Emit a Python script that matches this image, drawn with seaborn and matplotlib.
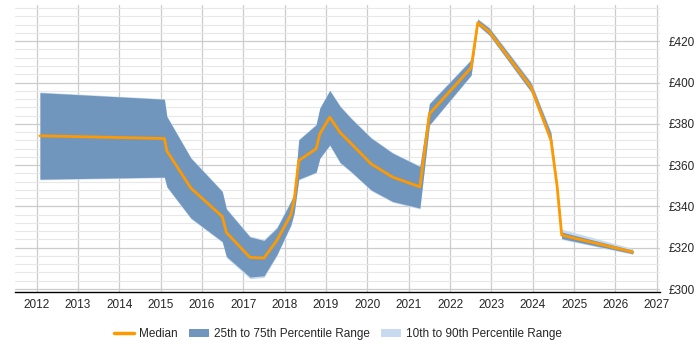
import numpy as np
import matplotlib
matplotlib.use("Agg")
import matplotlib.pyplot as plt
import matplotlib.patches as mpatches
from matplotlib.lines import Line2D
from matplotlib.ticker import MultipleLocator, FuncFormatter
import pandas as pd
import seaborn as sns

# sample dates (decimal years) and daily rate percentiles (GBP)
years = [2012.08, 2015.09, 2015.15, 2015.73, 2016.49, 2016.59, 2017.16, 2017.50,
         2017.81, 2018.15, 2018.23, 2018.34, 2018.76, 2018.85, 2019.09, 2019.34,
         2019.60, 2020.09, 2020.61, 2021.27, 2021.50, 2022.51, 2022.67, 2022.95,
         2023.96, 2024.44, 2024.59, 2024.70, 2026.42]
median = [374.2, 372.9, 366.9, 348.9, 335.1, 327.4, 315.3, 315.0,
          323.5, 336.0, 343.2, 362.2, 367.9, 375.1, 383.2, 375.8,
          370.6, 360.6, 354.2, 349.5, 384.8, 407.2, 429.0, 424.6,
          397.7, 372.2, 349.6, 326.1, 317.9]
p75 = [395.1, 391.9, 383.5, 363.4, 347.2, 338.7, 325.2, 323.5,
       329.5, 342.4, 346.0, 372.2, 379.5, 387.6, 396.1, 388.4,
       382.7, 373.1, 365.8, 359.3, 389.7, 411.0, 430.6, 426.3,
       399.7, 375.5, 350.8, 327.6, 318.8]
p25 = [353.2, 354.2, 349.6, 334.4, 323.0, 315.8, 305.8, 306.4,
       316.6, 331.1, 337.0, 353.2, 356.6, 363.4, 369.8, 361.3,
       357.0, 348.0, 342.4, 339.2, 379.5, 403.7, 427.9, 423.0,
       395.6, 370.6, 348.4, 324.4, 317.1]
p90 = [395.4, 392.2, 383.9, 363.8, 347.6, 339.2, 325.7, 324.0,
       330.1, 343.0, 346.6, 372.6, 379.9, 388.0, 396.5, 388.8,
       383.1, 373.5, 366.2, 359.7, 390.1, 411.4, 431.0, 426.8,
       400.4, 376.4, 351.4, 329.0, 319.6]
p10 = [352.9, 353.9, 349.2, 334.0, 322.6, 315.2, 305.0, 305.6,
       316.0, 330.6, 336.5, 352.8, 356.2, 363.0, 369.4, 360.9,
       356.6, 347.6, 342.0, 338.8, 379.1, 403.3, 427.5, 422.6,
       395.1, 370.0, 348.0, 324.0, 316.8]

year_ticks = list(range(2012, 2028))

df = pd.DataFrame({"year": years, "median": median,
                   "p10": p10, "p25": p25, "p75": p75, "p90": p90})

sns.set_style("white")
plt.rcParams["font.family"] = ["Liberation Sans", "DejaVu Sans"]

orange = "#FF9900"
band_dark = "#7096BE"
band_light = "#C8DAEE"

fig = plt.figure(figsize=(7, 3.5), dpi=100)
ax = fig.add_axes([0.021, 0.166, 0.922, 0.820])

ax.fill_between(df["year"], df["p10"], df["p90"], color=band_light, lw=0, zorder=2)
ax.fill_between(df["year"], df["p25"], df["p75"], color=band_dark, lw=0, zorder=3)
sns.lineplot(data=df, x="year", y="median", ax=ax, color=orange, lw=2, zorder=4)

ax.set_xlim(2011.47, 2027.08)
ax.set_ylim(298.6, 437.6)
ax.set_xticks(year_ticks)
ax.set_xticklabels([str(y) for y in year_ticks])
ax.yaxis.set_major_locator(MultipleLocator(20))
ax.yaxis.set_minor_locator(MultipleLocator(4))
ax.yaxis.set_major_formatter(FuncFormatter(lambda v, p: "\u00a3%d" % v))
ax.yaxis.tick_right()

ax.grid(which="major", axis="both", color="#cccccc", lw=0.9, zorder=0)
ax.grid(which="minor", axis="y", color="#e8e8e8", lw=0.8, zorder=0)
ax.set_axisbelow(True)

for s in ["top", "left", "right"]:
    ax.spines[s].set_visible(False)
ax.spines["bottom"].set_color("black")
ax.spines["bottom"].set_linewidth(1.0)

ax.tick_params(axis="x", length=3, width=0.8, color="black", labelsize=8.5, pad=2)
ax.tick_params(axis="y", which="both", length=0, labelsize=8.5, pad=6)
ax.set_xlabel("")
ax.set_ylabel("")

handles = [
    Line2D([0], [0], color=orange, lw=2.5),
    mpatches.Patch(color=band_dark, lw=0),
    mpatches.Patch(color=band_light, lw=0),
]
labels = ["Median", "25th to 75th Percentile Range", "10th to 90th Percentile Range"]
fig.legend(handles, labels, loc="center", bbox_to_anchor=(0.483, 0.045), ncol=3,
           frameon=False, fontsize=8.5, handlelength=1.7, columnspacing=0.95,
           handletextpad=0.42)

fig.savefig("out.png", dpi=100)
